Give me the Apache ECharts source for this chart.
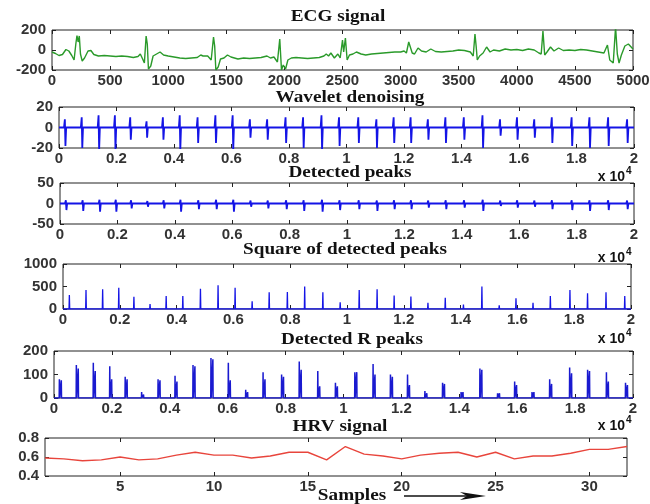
<!DOCTYPE html>
<html><head><meta charset="utf-8">
<script src="https://cdn.jsdelivr.net/npm/echarts@6/dist/echarts.min.js"></script>
<style>html,body{margin:0;padding:0;background:#fff}#c{width:650px;height:504px}</style>
</head><body><div id="c"></div>
<script>
// ---- data ----
const ecgSignal = [[0,-20],[30,-35],[60,-55],[90,-45],[120,5],[145,-10],[170,-55],[190,-100],[205,60],[215,145],[225,80],[235,140],[245,-40],[260,-110],[280,-80],[310,-10],[335,-5],[360,-45],[400,-60],[450,-55],[500,-60],[550,-65],[600,-60],[650,-65],[700,-75],[740,-65],[760,-40],[780,-90],[795,-130],[810,140],[820,60],[830,-190],[850,-160],[870,-60],[900,-40],[930,-20],[960,-50],[1000,-60],[1050,-70],[1100,-80],[1150,-85],[1200,-80],[1250,-75],[1280,-50],[1300,-60],[1340,-60],[1370,-100],[1390,130],[1400,40],[1410,-200],[1430,-170],[1450,-90],[1480,-80],[1510,-50],[1540,-70],[1600,-90],[1650,-80],[1700,-85],[1750,-80],[1800,-75],[1850,-60],[1880,-80],[1910,-70],[1940,-120],[1960,110],[1975,-200],[1990,-150],[2010,-190],[2030,-100],[2060,-80],[2100,-75],[2150,-80],[2200,-85],[2250,-80],[2300,-75],[2340,-60],[2360,-40],[2380,-60],[2400,-30],[2430,-80],[2460,-40],[2480,-80],[2500,100],[2510,-20],[2525,120],[2540,-100],[2560,-50],[2590,-40],[2620,-20],[2660,-40],[2700,-50],[2750,-40],[2800,-35],[2850,-30],[2900,-25],[2950,-20],[3000,-20],[3030,-10],[3050,-30],[3070,80],[3085,100],[3100,-30],[3120,-40],[3150,20],[3180,-10],[3220,-20],[3260,10],[3300,-15],[3350,-20],[3400,-15],[3450,-10],[3500,0],[3550,-5],[3600,-20],[3625,-60],[3640,160],[3650,40],[3660,-100],[3680,-60],[3710,-30],[3740,30],[3770,-20],[3800,0],[3850,-10],[3900,10],[3950,0],[4000,5],[4050,-5],[4100,10],[4150,0],[4190,-30],[4210,-40],[4225,190],[4240,-50],[4260,-20],[4290,30],[4320,-10],[4360,20],[4400,-5],[4450,0],[4500,-5],[4550,5],[4600,0],[4650,-10],[4700,-20],[4750,-30],[4780,50],[4800,-100],[4830,-130],[4850,230],[4865,-40],[4880,-130],[4900,-50],[4930,40],[4960,60],[5000,10]];

const beatPos = [224,810,1396,1964,2497,3065,3633,4219,4840,5460,6060,6660,7260,7900,8510,9150,9760,10430,11060,11660,12250,12850,13460,14100,14750,15360,15950,16550,17160,17850,18470,19120,19780];

const denoiseUp   = [8,10,12,12,10,6,10,12,10,12,12,8,8,10,10,12,10,10,8,10,10,8,10,10,12,8,10,8,10,10,10,10,8];
const denoiseDown = [-18,-20,-22,-22,-12,-10,-12,-22,-15,-15,-22,-10,-12,-15,-20,-22,-18,-15,-20,-15,-15,-12,-15,-12,-20,-8,-12,-10,-15,-18,-20,-18,-15];

const peaksUp   = [8,8,9,9,8,6,8,9,8,9,9,7,7,8,8,9,8,8,7,8,8,7,8,8,9,7,8,7,8,8,8,8,7];
const peaksDown = [-16,-18,-20,-20,-12,-8,-12,-20,-14,-14,-20,-8,-12,-14,-18,-20,-16,-14,-18,-14,-14,-10,-14,-10,-18,-6,-10,-8,-14,-16,-18,-16,-14];

const squarePeaks = [310,420,440,470,270,110,290,290,450,530,470,170,370,380,500,370,150,420,440,300,280,140,250,100,500,80,240,140,290,420,350,370,290];

const rPeakA = [80,140,150,135,90,25,80,95,140,170,150,35,110,100,155,115,65,110,145,100,100,30,65,25,125,20,70,25,80,130,120,110,65];
const rPeakB = [75,125,115,80,80,15,75,70,135,165,75,25,80,90,120,50,50,110,100,90,55,20,60,25,120,20,55,25,60,105,115,70,55];

const hrvSamples = [1,2,3,4,5,6,7,8,9,10,11,12,13,14,15,16,17,18,19,20,21,22,23,24,25,26,27,28,29,30,31,32];
const hrvValues  = [0.59,0.58,0.56,0.57,0.60,0.57,0.58,0.62,0.65,0.62,0.62,0.59,0.61,0.65,0.65,0.57,0.71,0.63,0.61,0.58,0.62,0.64,0.65,0.60,0.65,0.58,0.61,0.61,0.64,0.68,0.68,0.71];

const hrvTicks = [5,10,15,20,25,30];

// ---- build marks ----
function spikeLine(up, down) {
  const d = [[0,0]];
  beatPos.forEach((p,i) => { d.push([p-50,0],[p-20,up[i]],[p,down[i]],[p+25,0]); });
  d.push([20000,0]);
  return d;
}
function squareLine() {
  const d = [[0,0]];
  beatPos.forEach((p,i) => { d.push([p-12,0],[p,squarePeaks[i]],[p+12,0]); });
  d.push([20000,0]);
  return d;
}
function rLine() {
  const d = [[0,0]];
  beatPos.forEach((p,i) => { d.push([p-45,0],[p-38,rPeakA[i]],[p-30,0],[p+20,0],[p+28,rPeakB[i]],[p+36,0]); });
  d.push([20000,0]);
  return d;
}

const grids = [
  {left:52, top:30, width:581, height:40},
  {left:59, top:107, width:575, height:41},
  {left:60, top:183, width:574, height:41},
  {left:63, top:264, width:568, height:45},
  {left:54, top:351, width:579, height:47},
  {left:45, top:438, width:582, height:38}
];

const labelFont = {fontFamily:'Liberation Sans', fontSize:15, fontWeight:'bold', color:'#333'};
const tick = {show:true, inside:true, length:4, lineStyle:{color:'#222'}};
const e4 = v => String(+(v/10000).toFixed(1));
const plain = v => String(+v.toFixed(2));

const xDefs = [
  {min:0,max:5000,interval:500,fmt:plain},
  {min:0,max:20000,interval:2000,fmt:e4},
  {min:0,max:20000,interval:2000,fmt:e4},
  {min:0,max:20000,interval:2000,fmt:e4},
  {min:0,max:20000,interval:2000,fmt:e4},
  {min:1,max:32,custom:hrvTicks,fmt:plain}
];
const yDefs = [
  {min:-200,max:200,interval:200},
  {min:-20,max:20,interval:20},
  {min:-50,max:50,interval:50},
  {min:0,max:1000,interval:500},
  {min:0,max:200,interval:100},
  {min:0.4,max:0.8,interval:0.2}
];

const xAxis = [], yAxis = [];
xDefs.forEach((d,i) => {
  const base = {type:'value', gridIndex:i, min:d.min, max:d.max, splitLine:{show:false}, axisLine:{show:false, onZero:false}};
  if (d.interval) base.interval = d.interval;
  const lab = Object.assign({show:true, margin:3, formatter:d.fmt}, labelFont);
  const tk = Object.assign({}, tick);
  if (d.custom) { lab.customValues = d.custom; tk.customValues = d.custom; }
  xAxis.push(Object.assign({}, base, {position:'bottom', axisLabel:lab, axisTick:tk}));
  xAxis.push(Object.assign({}, base, {position:'top', axisLabel:{show:false}, axisTick:Object.assign({}, tk)}));
});
yDefs.forEach((d,i) => {
  const base = {type:'value', gridIndex:i, min:d.min, max:d.max, interval:d.interval, splitLine:{show:false}, axisLine:{show:false, onZero:false}};
  yAxis.push(Object.assign({}, base, {position:'left', axisLabel:Object.assign({show:true, margin:6, formatter:plain}, labelFont), axisTick:tick}));
  yAxis.push(Object.assign({}, base, {position:'right', axisLabel:{show:false}, axisTick:tick}));
});

const blue = '#1414e6';
const series = [
  {type:'line', xAxisIndex:0, yAxisIndex:0, data:ecgSignal, showSymbol:false, lineStyle:{color:'#2a9a2a', width:1.4}},
  {type:'line', xAxisIndex:2, yAxisIndex:2, data:spikeLine(denoiseUp, denoiseDown), showSymbol:false, lineStyle:{color:blue, width:1.8}},
  {type:'line', xAxisIndex:4, yAxisIndex:4, data:spikeLine(peaksUp, peaksDown), showSymbol:false, lineStyle:{color:blue, width:1.8}},
  {type:'line', xAxisIndex:6, yAxisIndex:6, data:squareLine(), showSymbol:false, lineStyle:{color:blue, width:1.3}},
  {type:'line', xAxisIndex:8, yAxisIndex:8, data:rLine(), showSymbol:false, lineStyle:{color:'#1a1ad0', width:1.5}, areaStyle:{color:'rgba(90,90,255,0.35)'}},
  {type:'line', xAxisIndex:10, yAxisIndex:10, data:hrvSamples.map((s,i)=>[s,hrvValues[i]]), showSymbol:false, lineStyle:{color:'#e8453c', width:1.4}}
];

const titleFont = 'bold 16px "Liberation Serif"';
function txt(text, x, y, font, align, sx) {
  return {type:'text', x:x, y:y, scaleX:sx||1, silent:true, style:{text:text, font:font, fill:'#111', textAlign:align||'center', textVerticalAlign:'middle', align:align||'center', verticalAlign:'middle'}};
}
const titles = [
  ['ECG signal',338,17],['Wavelet denoising',350,98],['Detected peaks',350,173],
  ['Square of detected peaks',345,250],['Detected R peaks',352,340],['HRV signal',340,427]
];
const graphic = titles.map(t => txt(t[0], t[1], t[2], titleFont, 'center', 1.2));
[176,257,338,425].forEach(y => {
  graphic.push(txt('x 10', 625, y+1, 'bold 14px "Liberation Sans"', 'right'));
  graphic.push(txt('4', 626, y-5, 'bold 10px "Liberation Sans"', 'left'));
});
graphic.push(txt('Samples', 352, 496, titleFont, 'center', 1.2));
graphic.push({type:'line', silent:true, shape:{x1:404,y1:496,x2:470,y2:496}, style:{stroke:'#111', lineWidth:1.5}});
graphic.push({type:'polygon', silent:true, shape:{points:[[460,492],[486,496],[460,500],[467,496]]}, style:{fill:'#111'}});

const chart = echarts.init(document.getElementById('c'), null, {renderer:'canvas'});
chart.setOption({
  animation:false,
  backgroundColor:'#fff',
  grid: grids.map(g => Object.assign({show:true, borderColor:'#222', borderWidth:1, backgroundColor:'transparent', containLabel:false, outerBoundsMode:'none'}, g)),
  xAxis:xAxis, yAxis:yAxis, series:series, graphic:graphic
});
</script></body></html>
